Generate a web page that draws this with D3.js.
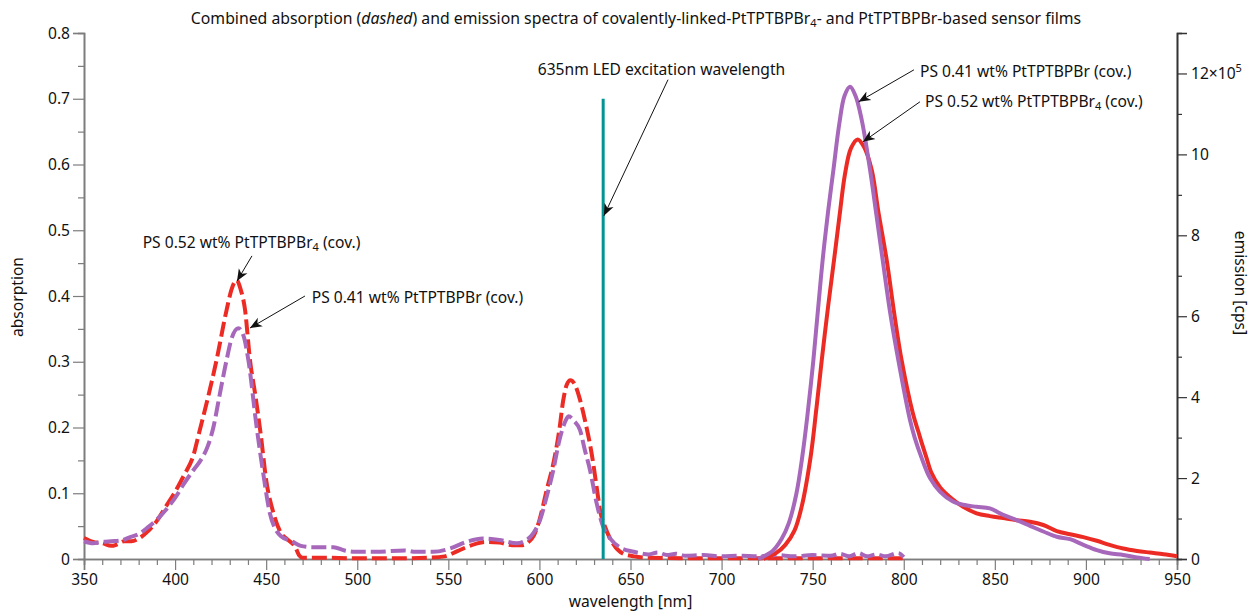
<!DOCTYPE html>
<html>
<head>
<meta charset="utf-8">
<script src="https://cdn.jsdelivr.net/npm/d3@7/dist/d3.min.js"></script>
<style>
  html, body { margin: 0; padding: 0; background: #fff; }
  svg { display: block; font-family: "Noto Sans", "Open Sans", sans-serif; }
</style>
</head>
<body>
<svg id="chart" width="1251" height="612"></svg>
<script>
// ---- absorption spectra (left axis, absorbance) ----
const absBr4Nm = [350,355,360,365,368,372,376,380,385,390,395,400,405,410,413.3,418,422.8,428.3,431,433.8,436,438.4,441.1,444,447,450,454,458,462,466,468,470,480,500,520,540,548,555,560,565,570,578,585,590,594,597,600,604,608,611,613,615,617,620,622,625,628.7,631.4,633.2,636,640.5,646,652,660,700,760,800];
const absBr4Val = [0.032,0.026,0.024,0.020,0.022,0.027,0.027,0.031,0.042,0.058,0.080,0.102,0.128,0.157,0.193,0.245,0.303,0.379,0.410,0.424,0.410,0.379,0.303,0.250,0.190,0.120,0.070,0.040,0.029,0.018,0.006,0.002,0.002,0.001,0.001,0.002,0.004,0.012,0.018,0.023,0.026,0.025,0.021,0.021,0.026,0.036,0.059,0.105,0.150,0.198,0.240,0.265,0.272,0.262,0.245,0.211,0.160,0.110,0.075,0.049,0.023,0.008,0.004,0.002,0.001,0.001,0.001];

const absBrNm = [350,355,360,365,370,375,380,385,390,395,400,405,410,414,418,421,424.5,428.3,431,434.7,437.5,440.2,444.8,448.4,452,458,464,469,475,487,493,499,510,526,532,541.7,551,560,569,578,587.5,593,596.6,600.3,604,607.6,611,614,616,619,622.3,625,627.8,631.4,635,638.9,644,651.8,655,660,665,670,675,680,690,700,710,720,730,740,750,760,765,770,775,780,785,790,797,800];
const absBrVal = [0.027,0.024,0.026,0.027,0.028,0.033,0.038,0.048,0.060,0.075,0.093,0.115,0.135,0.150,0.172,0.200,0.250,0.303,0.335,0.351,0.340,0.303,0.200,0.130,0.070,0.035,0.027,0.020,0.018,0.018,0.013,0.011,0.011,0.013,0.011,0.011,0.016,0.026,0.031,0.029,0.024,0.029,0.039,0.059,0.095,0.135,0.181,0.208,0.217,0.210,0.196,0.165,0.135,0.085,0.049,0.031,0.018,0.011,0.009,0.007,0.010,0.006,0.008,0.005,0.006,0.004,0.005,0.004,0.006,0.004,0.006,0.005,0.008,0.004,0.009,0.004,0.007,0.004,0.009,0.003];

// ---- emission spectra (right axis, ×10^5 cps) ----
const emBr4Nm = [723,730,735,740,744,748.9,752,755,758.5,761.9,764.8,767.7,771,774.7,778,782.4,786,790.6,795,798.8,805,808,810,812.5,815,820,827,832.6,840,847.3,854.6,862,869.3,876.6,884,891.3,898.6,906,913,920.5,928,935,942.6,950];
const emBr4Val = [0,0.15,0.35,0.7,1.3,2.53,3.7,4.92,6.25,7.45,8.5,9.5,10.15,10.37,10.2,9.62,8.6,7.4,6.0,4.92,3.6,3.15,2.85,2.5,2.15,1.77,1.47,1.29,1.13,1.06,1.01,0.96,0.92,0.84,0.69,0.61,0.54,0.45,0.35,0.26,0.2,0.16,0.12,0.07];

const emBrNm = [720,728,733,737,741,744.3,747,750.4,753,755.5,758.5,761.4,764.6,767.5,770.5,773.5,776.9,781.5,785,788.4,792.5,797,803.4,806,809.8,814.4,820,827,832.6,840,847.3,854.6,862,869.3,876.6,884,891.3,898.6,906,913,920.5,928,935];
const emBrVal = [0,0.2,0.5,0.9,1.6,2.53,3.5,4.92,6.2,7.4,8.6,9.62,10.75,11.45,11.67,11.45,10.86,9.62,8.5,7.4,6.1,4.92,3.44,3.0,2.5,2.0,1.66,1.42,1.34,1.29,1.25,1.09,0.96,0.82,0.68,0.55,0.49,0.35,0.22,0.14,0.1,0.04,0];

// ---- axes ticks ----
const xMajorTicks = [350,400,450,500,550,600,650,700,750,800,850,900,950];
const yLeftTicks = [0,0.1,0.2,0.3,0.4,0.5,0.6,0.7,0.8];
const yLeftTickLabels = ["0","0.1","0.2","0.3","0.4","0.5","0.6","0.7","0.8"];
const yRightTicks = [0,2,4,6,8,10,12];
const yRightTickLabels = ["0","2","4","6","8","10","12"];

const ledWavelength = 635;
const ledTop = 0.7;

const RED = "#ec2b24";
const PURPLE = "#a767ba";
const TEAL = "#009592";

const svg = d3.select("#chart");
const W = 1251, H = 612;
const m = { left: 84, right: 74, top: 33, bottom: 53 };

const x = d3.scaleLinear().domain([350, 950]).range([m.left, W - m.right]);
const yL = d3.scaleLinear().domain([0, 0.8]).range([H - m.bottom, m.top]);
const yR = d3.scaleLinear().domain([0, 13]).range([H - m.bottom, m.top]);

const FS = 15.6;
const FONT = "'Noto Sans', 'Open Sans', sans-serif";

// ---- axes ----
function styleAxis(g, color) {
  g.select(".domain").attr("stroke", color).attr("stroke-width", 1.6);
  g.selectAll(".tick line").attr("stroke", color).attr("stroke-width", 1.2);
  g.selectAll(".tick text").attr("fill", "#111").attr("font-size", FS).attr("font-family", FONT);
}

const xMinor = d3.range(350, 951, 10).filter(v => v % 50 !== 0);
svg.append("g").attr("transform", `translate(0,${yL(0)})`)
  .call(d3.axisBottom(x).tickValues(xMinor).tickSize(6).tickFormat(""))
  .call(g => styleAxis(g, "#7d7d7d"));
svg.append("g").attr("transform", `translate(0,${yL(0)})`)
  .call(d3.axisBottom(x).tickValues(xMajorTicks).tickSize(11).tickPadding(4).tickFormat(d3.format("d")))
  .call(g => styleAxis(g, "#7d7d7d"));

const yMinor = d3.range(0.05, 0.8, 0.1);
svg.append("g").attr("transform", `translate(${m.left},0)`)
  .call(d3.axisLeft(yL).tickValues(yMinor).tickSize(6).tickFormat(""))
  .call(g => styleAxis(g, "#7d7d7d"));
svg.append("g").attr("transform", `translate(${m.left},0)`)
  .call(d3.axisLeft(yL).tickValues(yLeftTicks).tickSize(11).tickPadding(3)
    .tickFormat((d, i) => yLeftTickLabels[i]))
  .call(g => styleAxis(g, "#7d7d7d"));

const rMinor = [1,3,5,7,9,11];
svg.append("g").attr("transform", `translate(${W - m.right},0)`)
  .call(d3.axisRight(yR).tickValues(rMinor).tickSize(5).tickFormat(""))
  .call(g => styleAxis(g, "#333"));
const rAxis = svg.append("g").attr("transform", `translate(${W - m.right},0)`)
  .call(d3.axisRight(yR).tickValues(yRightTicks).tickSize(10).tickPadding(4)
    .tickFormat((d, i) => yRightTickLabels[i]))
  .call(g => styleAxis(g, "#333"));
// exponent on the top tick
rAxis.selectAll(".tick text").filter(d => d === 12)
  .text("12×10")
  .append("tspan").attr("dy", -7).attr("font-size", 11).text("5");

// ---- axis titles ----
svg.append("text").attr("x", (m.left + W - m.right) / 2).attr("y", 607)
  .attr("text-anchor", "middle").attr("font-size", FS).attr("fill", "#111").text("wavelength [nm]");
svg.append("text").attr("transform", `translate(23,297) rotate(-90)`)
  .attr("text-anchor", "middle").attr("font-size", FS).attr("fill", "#111").text("absorption");
svg.append("text").attr("transform", `translate(1235,283) rotate(90)`)
  .attr("text-anchor", "middle").attr("font-size", FS).attr("fill", "#111").text("emission [cps]");

// ---- title ----
const title = svg.append("text").attr("x", 636).attr("y", 24)
  .attr("text-anchor", "middle").attr("font-size", 15.8).attr("fill", "#111");
title.append("tspan").text("Combined absorption (");
title.append("tspan").attr("font-style", "italic").text("dashed");
title.append("tspan").text(") and emission spectra of covalently-linked-PtTPTBPBr");
title.append("tspan").attr("font-size", 11).attr("dy", 3).text("4");
title.append("tspan").attr("dy", -3).text("- and PtTPTBPBr-based sensor films");

// ---- spectra ----
const toPts = (xs, ys) => xs.map((v, i) => [v, ys[i]]);
const lineAbs = d3.line().x(d => x(d[0])).y(d => yL(d[1])).curve(d3.curveMonotoneX);
const lineEm = d3.line().x(d => x(d[0])).y(d => yR(d[1])).curve(d3.curveCatmullRom.alpha(0.5));

const plot = svg.append("g");
plot.append("path").datum(toPts(absBr4Nm, absBr4Val)).attr("d", lineAbs)
  .attr("fill", "none").attr("stroke", RED).attr("stroke-width", 4).attr("stroke-dasharray", "15,5");
plot.append("path").datum(toPts(absBrNm, absBrVal)).attr("d", lineAbs)
  .attr("fill", "none").attr("stroke", PURPLE).attr("stroke-width", 4).attr("stroke-dasharray", "15,5");

plot.append("line")
  .attr("x1", x(ledWavelength)).attr("x2", x(ledWavelength))
  .attr("y1", yL(0)).attr("y2", yL(ledTop))
  .attr("stroke", TEAL).attr("stroke-width", 3);

plot.append("path").datum(toPts(emBr4Nm, emBr4Val)).attr("d", lineEm)
  .attr("fill", "none").attr("stroke", RED).attr("stroke-width", 4).attr("stroke-linejoin", "round");
plot.append("path").datum(toPts(emBrNm, emBrVal)).attr("d", lineEm)
  .attr("fill", "none").attr("stroke", PURPLE).attr("stroke-width", 4).attr("stroke-linejoin", "round");

// ---- annotations ----
svg.append("defs").append("marker")
  .attr("id", "arrow").attr("viewBox", "-12 -6 14 12")
  .attr("markerWidth", 14).attr("markerHeight", 12).attr("refX", 0).attr("refY", 0)
  .attr("markerUnits", "userSpaceOnUse").attr("orient", "auto")
  .append("path").attr("d", "M0,0 L-12,-5 L-8.5,0 L-12,5 Z").attr("fill", "#111");

// label pieces (text, subscript, text after), label anchor and arrow start / tip in data units
const notes = [
  { parts: ["635nm LED excitation wavelength"], tx: 667, ty: 0.736, anchor: "middle", from: [670.6, 0.729], to: [635.4, 0.522], y: yL },
  { parts: ["PS 0.41 wt% PtTPTBPBr (cov.)"], tx: 808.9, ty: 11.92, anchor: "start", from: [805.6, 12.09], to: [775.2, 11.3], y: yR },
  { parts: ["PS 0.52 wt% PtTPTBPBr", "4", " (cov.)"], tx: 811.7, ty: 11.18, anchor: "start", from: [808.9, 11.3], to: [777.6, 10.31], y: yR },
  { parts: ["PS 0.52 wt% PtTPTBPBr", "4", " (cov.)"], tx: 382.2, ty: 0.4726, anchor: "start", from: [442.2, 0.461], to: [434.0, 0.4228], y: yL },
  { parts: ["PS 0.41 wt% PtTPTBPBr (cov.)"], tx: 475, ty: 0.389, anchor: "start", from: [471.3, 0.400], to: [441.1, 0.3513], y: yL }
];

notes.forEach(n => {
  const t = svg.append("text").attr("x", x(n.tx)).attr("y", n.y(n.ty))
    .attr("text-anchor", n.anchor).attr("font-size", FS).attr("fill", "#111");
  t.append("tspan").text(n.parts[0]);
  if (n.parts.length > 1) {
    t.append("tspan").attr("font-size", 11).attr("dy", 3).text(n.parts[1]);
    t.append("tspan").attr("dy", -3).text(n.parts[2]);
  }
  svg.append("line")
    .attr("x1", x(n.from[0])).attr("y1", n.y(n.from[1]))
    .attr("x2", x(n.to[0])).attr("y2", n.y(n.to[1]))
    .attr("stroke", "#111").attr("stroke-width", 1)
    .attr("marker-end", "url(#arrow)");
});
</script>
</body>
</html>
